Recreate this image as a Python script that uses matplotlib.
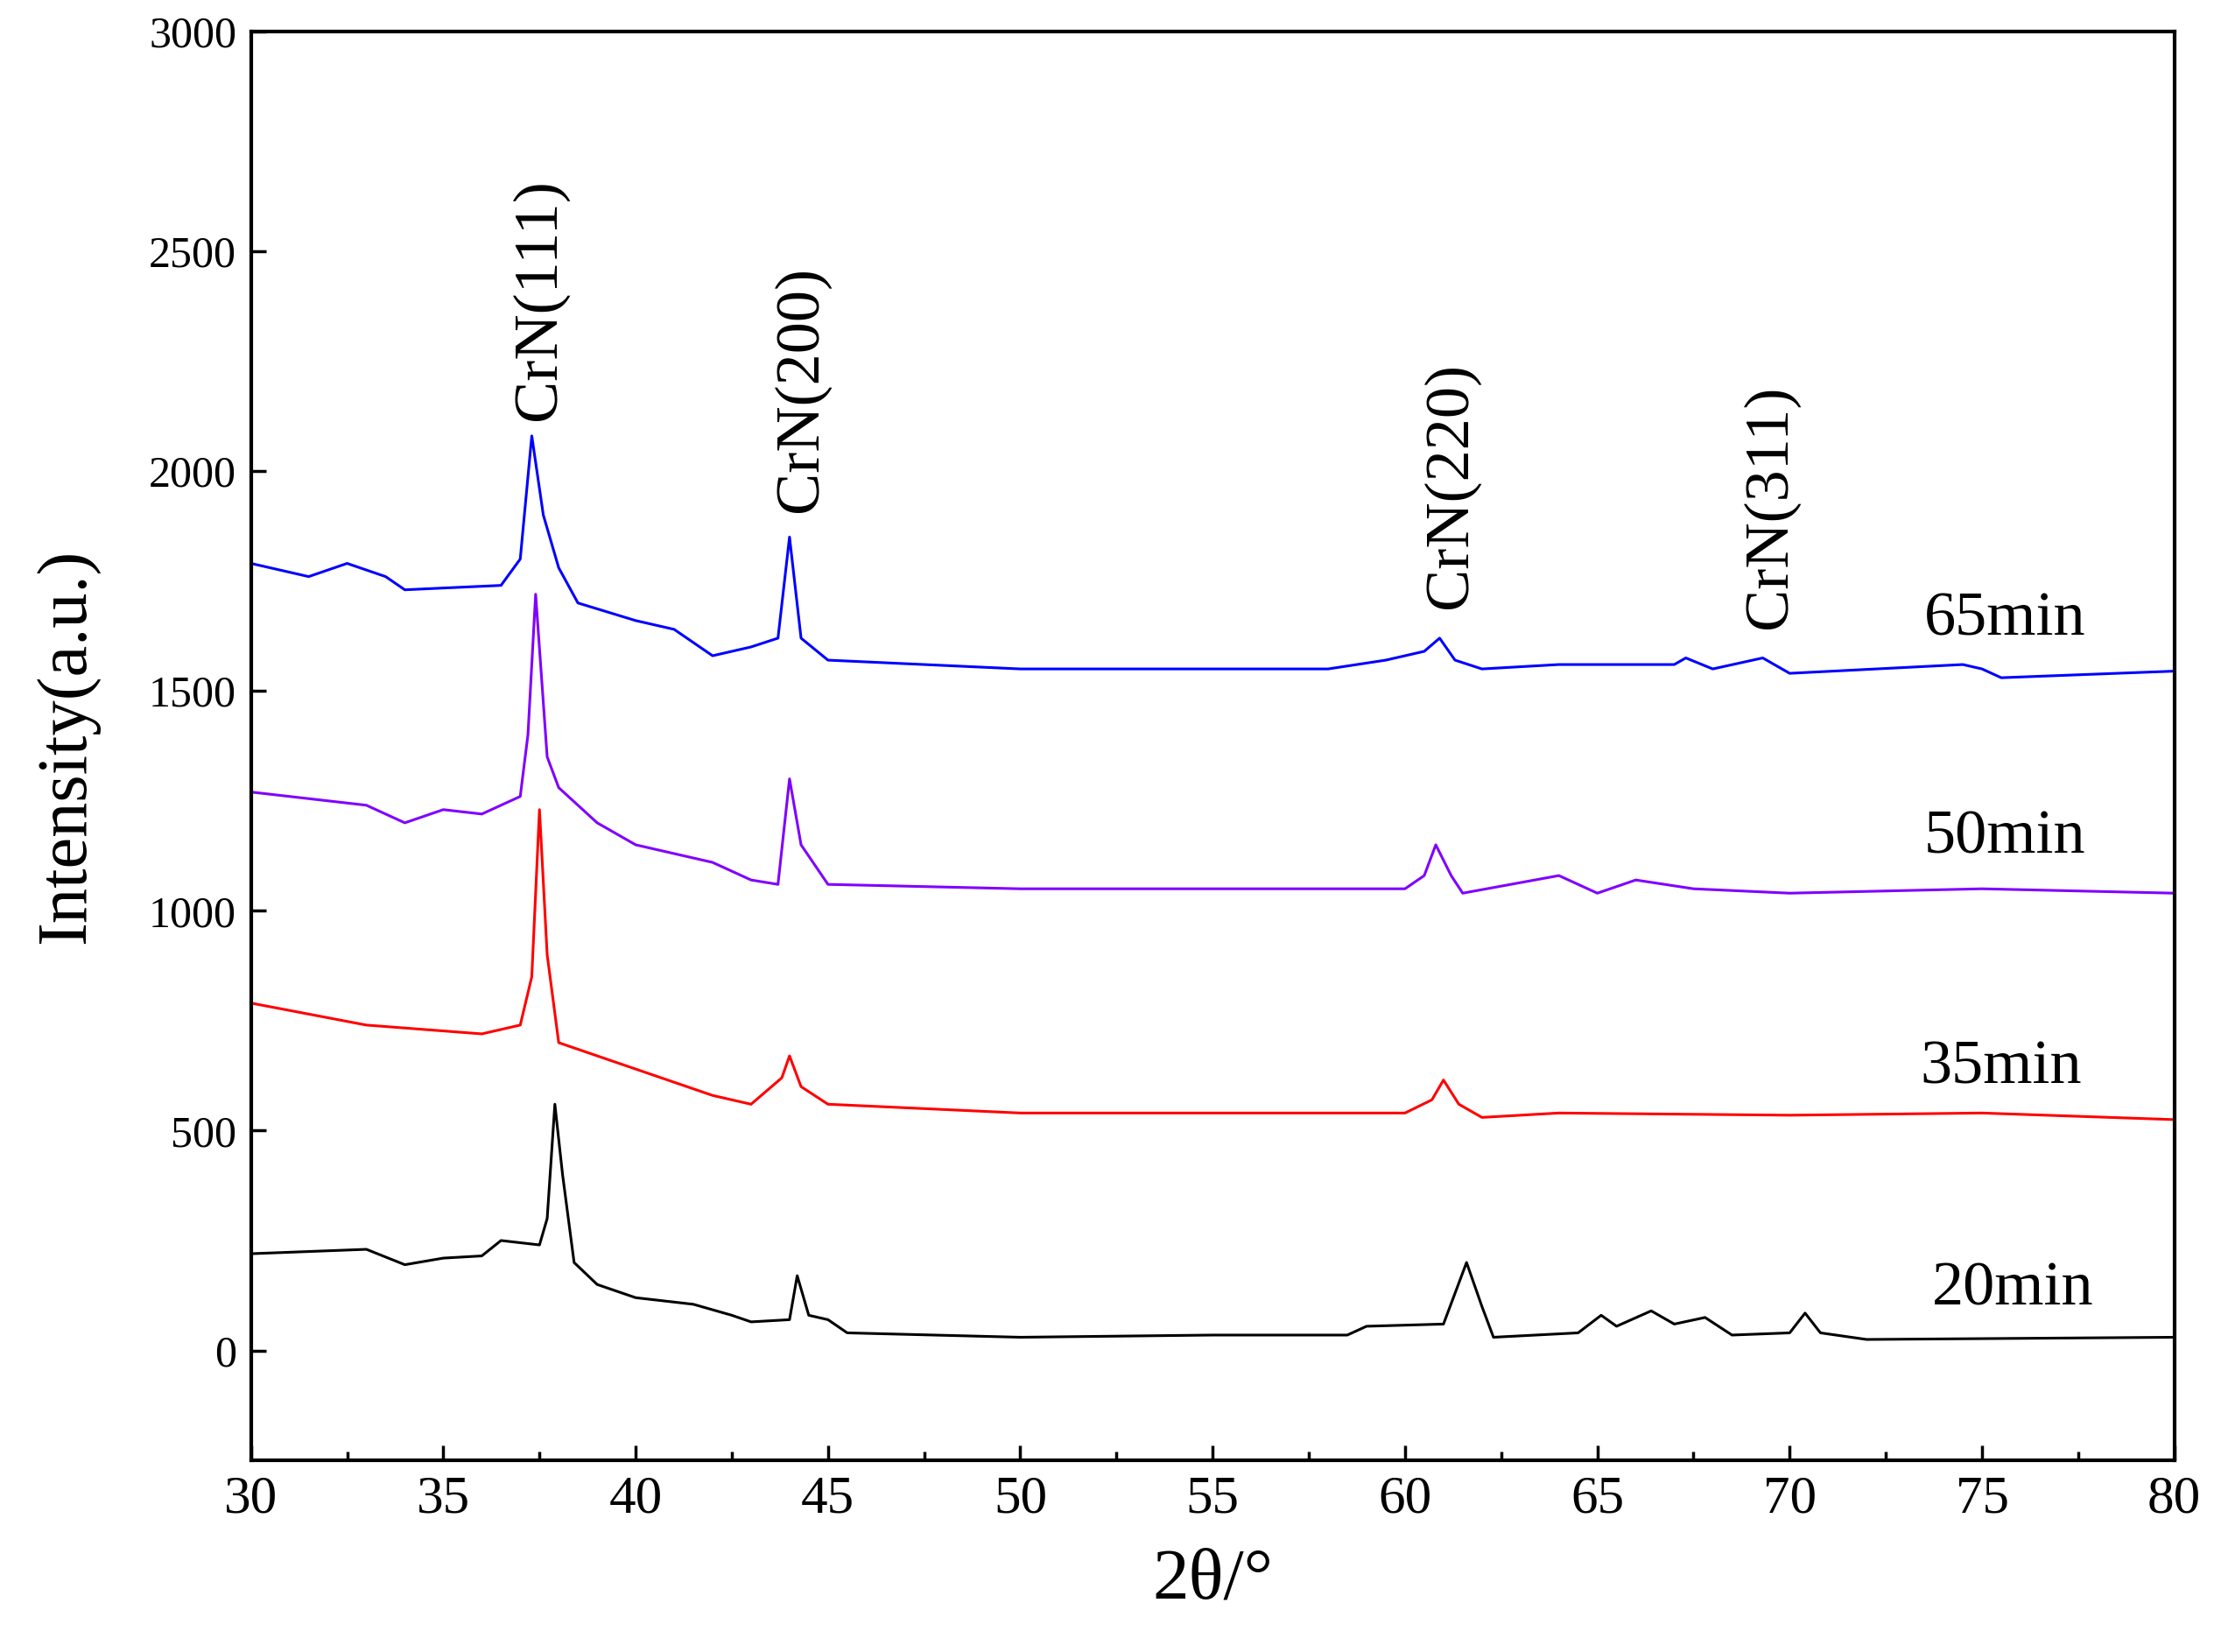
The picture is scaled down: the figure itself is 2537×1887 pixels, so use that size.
import matplotlib
matplotlib.use("Agg")
import matplotlib.pyplot as plt
from matplotlib.ticker import MultipleLocator

plt.rcParams['font.family'] = ['Liberation Serif', 'DejaVu Serif']

x20 = [30,33,34,35,36,36.5,37.5,37.7,37.9,38.1,38.4,39,40,41.5,42.5,43,44,44.2,44.5,45,45.5,50,55,58.5,59,61,61.6,62,62.3,64.5,65.1,65.5,66.4,67,67.8,68.5,70,70.4,70.8,72,80]
y20 = [220,230,195,210,215,250,240,300,560,400,200,150,120,105,80,65,70,170,80,70,40,30,35,35,55,60,200,100,30,40,80,55,90,60,75,35,40,85,40,25,30]
x35 = [30,33,36,37,37.3,37.5,37.7,38,40,42,43,43.8,44,44.3,45,50,55,60,60.7,61,61.4,62,64,70,75,80]
y35 = [790,740,720,740,850,1230,900,700,640,580,560,620,670,600,560,540,540,540,570,615,560,530,540,535,540,525]
x50 = [30,33,34,35,36,37,37.2,37.4,37.7,38,39,40,42,43,43.7,44,44.3,45,50,55,60,60.5,60.8,61.2,61.5,64,65,66,67.5,70,75,80]
y50 = [1270,1240,1200,1230,1220,1260,1400,1720,1350,1280,1200,1150,1110,1070,1060,1300,1150,1060,1050,1050,1050,1080,1150,1080,1040,1080,1040,1070,1050,1040,1050,1040]
x65 = [30,31.5,32.5,33.5,34,36.5,37,37.3,37.6,38,38.5,40,41,42,43,43.7,44,44.3,45,50,55,58,59.5,60.5,60.9,61.3,62,64,67,67.3,68,69.3,70,74.5,75,75.5,80]
y65 = [1790,1760,1790,1760,1730,1740,1800,2080,1900,1780,1700,1660,1640,1580,1600,1620,1850,1620,1570,1550,1550,1550,1570,1590,1620,1570,1550,1560,1560,1575,1550,1575,1540,1560,1550,1530,1545]

series = [("20min", x20, y20, "black", (75.8, 139)),
          ("35min", x35, y35, "red", (75.5, 642)),
          ("50min", x50, y50, "#8000ff", (75.6, 1165)),
          ("65min", x65, y65, "blue", (75.6, 1661))]
peaks = ["CrN(111)", "CrN(200)", "CrN(220)", "CrN(311)"]
peak_x = [37.5, 44.3, 61.2, 69.5]
peak_y = [2116, 1906, 1687, 1642]

fig = plt.figure(figsize=(25.37, 18.87), dpi=100)
ax = fig.add_axes([0.113, 0.116, 0.866, 0.865])
for name, xs, ys, c, (lx, ly) in series:
    ax.plot(xs, ys, color=c, lw=2.2)
    ax.text(lx, ly, name, ha='center', va='center', fontsize=52)
for t, px, py in zip(peaks, peak_x, peak_y):
    ax.text(px, py, t, rotation=90, ha='center', va='bottom', fontsize=52)

ax.set_xlim(30, 80)
ax.set_ylim(-250, 3000)
ax.xaxis.set_major_locator(MultipleLocator(5))
ax.xaxis.set_minor_locator(MultipleLocator(2.5))
ax.yaxis.set_major_locator(MultipleLocator(500))
ax.tick_params(direction='in', labelsize=36, length=12, width=2.5, pad=12)
ax.tick_params(which='minor', direction='in', length=7, width=2.5)
ax.tick_params(axis='x', labelsize=44)
for s in ax.spines.values():
    s.set_linewidth(3)
ax.set_xlabel("2θ/°", fontsize=60, labelpad=20)
ax.set_ylabel("Intensity(a.u.)", fontsize=58, labelpad=40)
fig.savefig("out.png", dpi=100)
